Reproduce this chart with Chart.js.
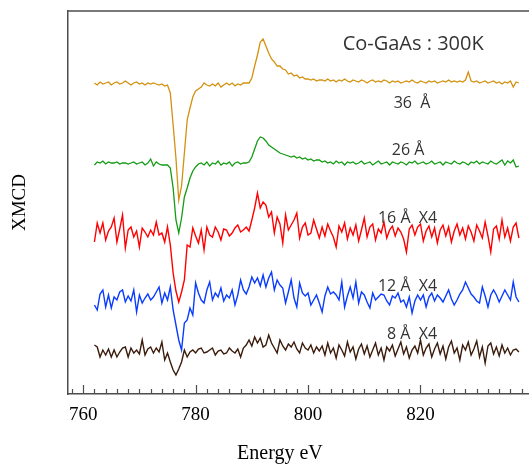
<!DOCTYPE html>
<html>
<head>
<meta charset="utf-8">
<script src="https://cdn.jsdelivr.net/npm/chart.js@4.4.0/dist/chart.umd.min.js"></script>
<style>
  html, body { margin: 0; padding: 0; background: #fff; overflow: hidden; }
  #wrap { width: 529px; height: 465px; }
</style>
</head>
<body>
<div id="wrap"><canvas id="xmcdChart" width="529" height="465"></canvas></div>
<script>
// Co-GaAs XMCD spectra at 300K, one trace per Co thickness
// energy grid of the scans (eV)
var energyStart = 762;
var energyStep = 0.5;

var xTickValues = [760, 780, 800, 820];
var seriesNames = ['36  Å', '26 Å', '16 Å  X4', '12 Å  X4', '8 Å  X4'];

// vertical offset of each trace (arbitrary units), traces are stacked
var seriesOffsets = [31.0, 23.1, 16.1, 9.6, 4.3];

// XMCD signal (arbitrary units)
var xmcd36 = [
  0.1,-0.1,0.2,0.0,0.1,0.2,-0.1,0.1,0.2,0.0,
  0.1,0.3,0.1,-0.1,0.1,0.2,0.0,0.1,-0.1,0.1,
  0.0,0.1,0.0,-0.1,0.0,-0.2,-0.1,-0.9,-4.1,-7.4,
  -11.6,-10.2,-6.9,-3.6,-2.4,-1.3,-0.7,-0.5,-0.3,0.1,
  -0.1,-0.2,0.0,-0.2,0.1,-0.3,-0.1,0.1,-0.1,0.1,
  -0.2,0.0,-0.1,0.1,0.1,0.1,0.6,1.8,2.9,4.2,
  4.5,3.8,3.1,2.5,2.2,1.8,1.8,1.5,1.4,1.0,
  1.1,0.8,0.9,0.6,0.7,0.5,0.5,0.4,0.5,0.3,
  0.4,0.4,0.3,0.5,0.3,0.4,0.2,0.4,0.3,0.5,
  0.3,0.2,0.4,0.3,0.2,0.4,0.3,0.1,0.3,0.4,
  0.2,0.3,0.2,0.4,0.3,0.1,0.3,0.2,0.3,0.1,
  0.2,0.3,0.2,0.4,0.2,0.1,0.3,0.2,0.1,0.3,
  0.2,0.3,0.1,0.2,0.3,0.2,0.4,0.2,0.3,0.2,
  0.3,0.2,0.4,1.2,0.3,0.2,0.3,0.1,0.2,0.3,
  0.1,0.2,0.3,0.1,0.2,0.0,0.2,0.1,0.3,-0.3,
  0.2,0.1
];
var xmcd26 = [
  -0.2,0.1,0.0,0.2,-0.1,0.1,0.0,0.0,0.1,-0.1,
  0.0,0.0,-0.1,0.0,0.1,-0.1,0.0,0.1,-0.2,0.0,
  0.4,-0.3,0.1,-0.1,-0.2,-0.2,-0.2,-0.5,-2.5,-5.7,
  -7.0,-5.5,-3.4,-2.5,-1.5,-0.8,-0.4,-0.1,0.0,-0.2,
  0.1,-0.3,0.0,-0.1,0.2,-0.2,0.0,-0.1,0.1,-0.3,
  0.0,0.1,-0.1,0.0,0.0,0.1,0.6,1.4,2.2,2.6,
  2.5,2.2,1.8,1.6,1.4,1.2,1.0,0.9,0.8,0.7,
  0.6,0.7,0.5,0.6,0.4,0.5,0.3,0.4,0.2,0.3,
  0.3,0.1,0.2,0.0,0.1,-0.1,0.2,0.0,0.1,-0.2,
  0.1,0.0,0.1,-0.1,0.0,0.2,-0.1,0.0,0.1,-0.2,
  0.0,0.2,-0.1,0.0,0.1,-0.2,0.1,0.0,-0.1,0.1,
  0.0,-0.2,0.1,0.0,0.2,-0.1,0.0,0.1,-0.1,0.0,
  0.2,-0.1,0.0,0.1,-0.2,0.1,0.0,-0.1,0.2,0.0,
  -0.1,0.1,0.0,-0.2,0.1,0.0,0.2,-0.1,0.1,0.0,
  -0.1,0.2,0.0,-0.1,0.1,0.3,-0.2,0.2,0.0,0.3,
  -0.4,-0.3
];
var xmcd16 = [
  -0.9,1.0,0.0,1.0,-0.7,0.2,0.6,1.5,-0.9,0.4,
  1.8,-1.5,0.3,0.6,-0.4,0.2,-1.4,0.5,0.1,-0.4,
  0.3,-0.2,1.1,-0.2,0.0,-0.9,0.6,-1.2,-4.0,-5.8,
  -6.9,-5.9,-4.7,-1.2,-1.4,0.5,-0.3,-1.0,0.3,-1.7,
  0.6,-0.2,-0.4,0.6,0.1,-0.7,0.4,0.3,-0.3,0.0,
  0.5,0.8,0.1,0.3,0.6,0.2,1.3,2.5,4.0,2.5,
  3.1,2.8,1.6,2.1,0.0,1.6,0.9,-1.0,1.8,0.3,
  0.8,1.3,2.0,-0.5,0.6,1.0,-0.2,0.0,1.3,0.4,
  -0.5,0.6,-0.3,0.9,0.2,-0.4,-1.4,0.7,0.1,1.0,
  -0.6,0.5,-0.2,0.8,-0.8,0.3,1.5,-0.4,0.6,0.9,
  -0.7,0.4,0.0,1.1,-0.5,0.3,0.7,-0.3,0.5,0.1,
  -0.6,-1.9,0.4,0.8,-0.2,0.6,0.9,-0.8,0.2,0.7,
  -0.4,0.5,-1.0,0.3,0.8,-0.3,0.6,-0.9,0.2,0.9,
  -0.2,0.5,-0.6,0.7,0.1,-0.8,0.8,0.2,-0.5,1.1,
  -0.3,-1.9,0.4,0.7,-0.6,1.3,-0.4,0.5,-0.8,0.6,
  1.0,-0.5
];
var xmcd12 = [
  -0.7,-1.2,0.4,0.8,-0.9,0.3,-1.0,0.1,-0.2,0.6,
  0.8,-0.4,0.2,-0.3,0.8,-1.4,0.3,-0.5,0.0,0.4,
  -0.2,0.1,0.6,1.1,-0.5,0.5,-0.2,1.1,-1.2,-2.7,
  -4.2,-5.2,-2.5,-2.2,-1.0,-1.7,1.5,0.5,-0.2,-0.5,
  0.8,1.6,-0.2,0.5,0.1,1.0,-0.3,0.3,0.0,0.8,
  -0.7,0.3,1.8,0.8,0.4,1.1,2.1,1.5,2.0,1.2,
  2.3,1.1,2.0,2.6,0.8,1.8,1.3,1.0,-0.5,0.6,
  1.8,0.0,-0.9,1.5,0.5,0.2,0.5,-0.7,-0.2,0.3,
  -0.5,-1.4,0.2,1.1,0.4,0.6,0.3,-0.2,1.6,-0.9,
  0.2,1.1,0.0,1.6,-0.5,0.6,0.3,-0.4,-1.0,0.5,
  -0.2,0.1,0.4,0.3,-0.3,-0.7,0.2,0.0,0.5,-0.4,
  -0.2,-0.9,0.1,-1.5,-0.3,0.3,-0.2,0.3,-0.9,0.1,
  0.5,-0.3,0.3,0.0,-0.4,0.2,0.8,-0.1,-0.7,-0.2,
  0.4,0.8,1.6,1.0,0.4,0.1,-0.3,-0.5,1.1,0.2,
  -0.9,0.3,0.8,0.3,-0.4,0.2,0.8,0.3,-0.2,1.6,
  0.1,-0.4
];
var xmcd8 = [
  0.6,0.4,-0.6,0.1,-0.4,0.2,-0.6,0.1,-0.6,-0.1,
  0.3,0.4,-0.6,0.3,-0.2,0.1,-0.3,1.1,-0.4,0.2,
  0.4,-0.2,0.3,-0.1,0.9,-0.9,-0.2,-1.1,-1.9,-2.4,
  -1.8,-1.1,0.1,-0.6,-0.1,0.1,-0.2,0.2,0.3,-0.2,
  -0.1,0.1,0.3,-0.4,0.0,0.1,-0.3,-0.2,0.3,0.0,
  -0.2,0.2,-0.6,0.3,0.6,1.1,0.5,1.4,0.8,1.3,
  0.4,0.6,1.6,0.8,0.3,-0.2,1.1,0.5,0.1,0.7,
  0.4,0.9,0.2,-0.2,0.8,0.3,0.1,0.6,-0.2,0.4,
  0.0,0.5,-0.4,0.8,-0.2,0.3,-0.7,0.6,0.1,-0.5,
  0.9,-0.1,0.4,-0.8,0.2,0.7,-0.3,0.5,-0.6,0.1,
  0.8,-0.4,0.3,-0.9,0.4,0.0,0.6,-0.5,0.2,0.9,
  -0.3,0.4,-0.7,0.1,0.5,-0.2,1.1,-0.4,0.3,0.7,
  -0.6,0.2,0.8,-0.3,0.5,-0.8,0.4,1.0,-0.2,0.3,
  -0.9,0.6,0.1,0.9,-0.4,0.2,1.0,-0.6,0.4,-1.2,
  0.5,0.8,-0.3,0.4,-0.5,0.6,-0.2,0.3,-0.4,0.1,
  0.2,-0.1
];

// text labels, placed in data units (eV, signal)
var annotations = [
  { text: 'Co-GaAs : 300K', e: 818.7, v: 34.4, size: 20 },
  { text: seriesNames[0], e: 818.5, v: 28.6, size: 16 },
  { text: seriesNames[1], e: 817.8, v: 23.9, size: 16 },
  { text: seriesNames[2], e: 817.7, v: 17.1, size: 16 },
  { text: seriesNames[3], e: 817.7, v: 10.35, size: 16 },
  { text: seriesNames[4], e: 818.5, v: 5.5, size: 16 }
];

var lineStyles = [
  { color: '#d4910f', width: 1.3 },
  { color: '#139b13', width: 1.3 },
  { color: '#ff0000', width: 1.4 },
  { color: '#0a3cff', width: 1.4 },
  { color: '#3b1c0c', width: 1.4 }
];

var axisColor = '#4d4d4d';
var serifFont = '"Liberation Serif", "Times New Roman", serif';
var sansFont = '"Open Sans", "Noto Sans", sans-serif';

var energies = [];
for (var i = 0; i < xmcd36.length; i++) {
  energies.push(energyStart + i * energyStep);
}

var allSeries = [xmcd36, xmcd26, xmcd16, xmcd12, xmcd8];
var datasets = allSeries.map(function(values, k) {
  return {
    label: seriesNames[k],
    data: values.map(function(v, j) {
      return { x: energies[j], y: v + seriesOffsets[k] };
    }),
    borderColor: lineStyles[k].color,
    borderWidth: lineStyles[k].width,
    pointRadius: 0,
    tension: 0,
    fill: false
  };
});

// top edge of the frame, inward ticks and text labels
var framePlugin = {
  id: 'frame',
  afterDraw: function(chart) {
    var ctx = chart.ctx;
    var area = chart.chartArea;
    var xs = chart.scales.x;
    var ys = chart.scales.y;

    ctx.save();
    ctx.strokeStyle = axisColor;
    ctx.lineWidth = 1.5;
    ctx.beginPath();
    ctx.moveTo(area.left, area.top);
    ctx.lineTo(area.right, area.top);
    ctx.stroke();

    // major ticks every 20 eV, minor every 2 eV
    ctx.lineWidth = 1.2;
    for (var e = 758; e <= 838; e += 2) {
      var px = Math.round(xs.getPixelForValue(e)) + 0.5;
      var len = (e % 20 === 0) ? 9 : 5;
      ctx.beginPath();
      ctx.moveTo(px, area.bottom);
      ctx.lineTo(px, area.bottom - len);
      ctx.stroke();
    }

    ctx.fillStyle = '#333';
    ctx.textAlign = 'center';
    ctx.textBaseline = 'alphabetic';
    annotations.forEach(function(a) {
      ctx.font = a.size + 'px ' + sansFont;
      ctx.fillText(a.text, xs.getPixelForValue(a.e), ys.getPixelForValue(a.v));
    });

    ctx.fillStyle = '#000';
    ctx.font = '20px ' + serifFont;
    ctx.fillText('Energy eV', xs.getPixelForValue(795), xs.bottom - 6);
    ctx.restore();
  }
};

var ctx = document.getElementById('xmcdChart').getContext('2d');
var xmcdChart = new Chart(ctx, {
  type: 'line',
  data: { datasets: datasets },
  options: {
    responsive: false,
    animation: false,
    devicePixelRatio: 1,
    layout: { padding: { top: 11, left: 0, right: 0, bottom: 0 } },
    plugins: {
      legend: { display: false },
      tooltip: { enabled: false }
    },
    scales: {
      x: {
        type: 'linear',
        position: 'bottom',
        min: 757.3,
        max: 839.3,
        afterBuildTicks: function(scale) {
          scale.ticks = xTickValues.map(function(v) { return { value: v }; });
        },
        afterFit: function(scale) { scale.height = 71; },
        grid: { display: false, drawTicks: false },
        border: { display: true, color: axisColor, width: 1.5 },
        ticks: {
          autoSkip: false,
          maxRotation: 0,
          padding: 10,
          color: '#000',
          font: { family: serifFont, size: 19 }
        }
      },
      y: {
        type: 'linear',
        min: 0,
        max: 38.3,
        afterFit: function(scale) { scale.width = 68; },
        grid: { display: false, drawTicks: false },
        border: { display: true, color: axisColor, width: 1.5 },
        ticks: { display: false },
        title: {
          display: true,
          text: 'XMCD',
          color: '#000',
          padding: { top: 9, bottom: 0 },
          font: { family: serifFont, size: 19 }
        }
      }
    }
  },
  plugins: [framePlugin]
});
</script>
</body>
</html>
